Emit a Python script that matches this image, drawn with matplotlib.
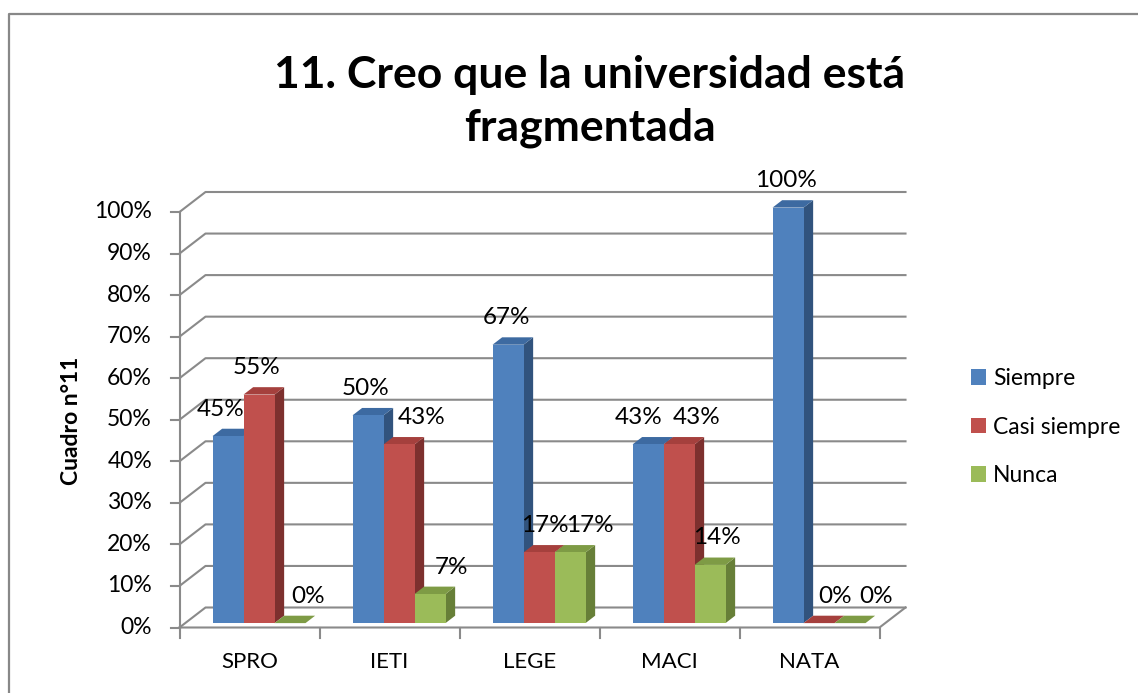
import matplotlib
matplotlib.use('Agg')
import matplotlib.pyplot as plt
from matplotlib.patches import Polygon, Patch
from matplotlib.lines import Line2D

# 1. Data -----
categories = ['SPRO', 'IETI', 'LEGE', 'MACI', 'NATA']
series_names = ['Siempre', 'Casi siempre', 'Nunca']
siempre = [0.45, 0.50, 0.67, 0.43, 1.00]
casi_siempre = [0.55, 0.43, 0.17, 0.43, 0.00]
nunca = [0.00, 0.07, 0.17, 0.14, 0.00]
y_ticks = [0.0, 0.1, 0.2, 0.3, 0.4, 0.5, 0.6, 0.7, 0.8, 0.9, 1.0]
y_tick_labels = ['0%', '10%', '20%', '30%', '40%', '50%', '60%', '70%', '80%', '90%', '100%']

title_line1 = '11. Creo que la universidad está'
title_line2 = 'fragmentada'
y_label = 'Cuadro n°11'

# face colors: front, top, side
front_colors = ['#4F81BD', '#C0504D', '#9BBB59']
top_colors = ['#3D6AA1', '#A5403D', '#7E9B45']
side_colors = ['#31537D', '#7D302E', '#677F38']
grid_color = '#8A8A8A'
font = 'Lato'

# horizontal nudge (px) of each data label, as Excel placed them
label_nudge = [[-7, -2, -2, -9, -2],
               [-2, 23, 6, 18, 16],
               [18, 21, 20, 7, 26]]

# 2. Figure / axes in "category x value" units -----
W, H = 1138, 693
fig = plt.figure(figsize=(W / 100, H / 100), dpi=100)
ax = fig.add_axes([0, 0, 1, 1])
ax.axis('off')

# pixel geometry of the plot floor (front-left corner) and scales
x0_px, y0_px = 179.5, 627.5
cat_px, full_px = 140.0, 415.5
PX, PY = 1 / cat_px, 1 / full_px
ax.set_xlim(-x0_px * PX, (W - x0_px) * PX)
ax.set_ylim((y0_px - H) * PY, y0_px * PY)

# depth of the 3d box
DX, DY = 26 * PX, 20 * PY
n = len(categories)

# 3. Walls and grid -----
lw = 1.5
for v in y_ticks:
    ax.plot([0, DX, n + DX], [v, v + DY, v + DY], color=grid_color, lw=lw, zorder=1, clip_on=False)
    ax.plot([-8.5 * PX, 0], [v, v], color=grid_color, lw=lw, zorder=1, clip_on=False)
# floor
ax.plot([0, n, n + DX], [0, 0, DY], color=grid_color, lw=lw, zorder=1, clip_on=False)
# front value axis
ax.plot([0, 0], [0, 1], color=grid_color, lw=lw, zorder=1, clip_on=False)
for i in range(n + 1):
    ax.plot([i, i], [0, -10 * PY], color=grid_color, lw=lw, zorder=1, clip_on=False)

for v, lab in zip(y_ticks, y_tick_labels):
    ax.text(-27.5 * PX, v, lab, ha='right', va='center', fontsize=16.5, family=font)
for i, cat in enumerate(categories):
    ax.text(i + 0.5, -35 * PY, cat, ha='center', va='center', fontsize=16, family=font)

# 4. 3d bars -----
bar_w = 31 * PX
gap = 27.3 * PX
f0, f1 = 0.22, 0.59
ddx, ddy = (f1 - f0) * DX, (f1 - f0) * DY

series = [siempre, casi_siempre, nunca]
for i in range(n):
    for j, vals in enumerate(series):
        h = vals[i]
        x0 = i + gap + j * bar_w + f0 * DX
        y0 = f0 * DY
        front = [(x0, y0), (x0 + bar_w, y0), (x0 + bar_w, y0 + h), (x0, y0 + h)]
        side = [(x0 + bar_w, y0), (x0 + bar_w + ddx, y0 + ddy),
                (x0 + bar_w + ddx, y0 + h + ddy), (x0 + bar_w, y0 + h)]
        top = [(x0, y0 + h), (x0 + bar_w, y0 + h),
               (x0 + bar_w + ddx, y0 + h + ddy), (x0 + ddx, y0 + h + ddy)]
        ax.add_patch(Polygon(side, closed=True, fc=side_colors[j], ec='none', zorder=3))
        ax.add_patch(Polygon(top, closed=True, fc=top_colors[j], ec='none', zorder=3))
        if h > 0:
            ax.add_patch(Polygon(front, closed=True, fc=front_colors[j], ec='none', zorder=3))
        ax.text(x0 + bar_w / 2 + label_nudge[j][i] * PX, y0 + h + 27 * PY, f'{h:.0%}',
                ha='center', va='center', fontsize=17.5, family=font, zorder=5)

# 5. Titles, legend, border -----
fig.text(590 / W, 1 - 88 / H, title_line1, ha='center', va='baseline',
         fontsize=32, fontweight='bold', family=font)
fig.text(590 / W, 1 - 140 / H, title_line2, ha='center', va='baseline',
         fontsize=32, fontweight='bold', family=font)
fig.text(71 / W, 1 - 421 / H, y_label, rotation=90, ha='center', va='center',
         fontsize=16.5, fontweight='bold', family=font)

handles = [Patch(facecolor=c, edgecolor='none') for c in front_colors]
fig.legend(handles, series_names, loc='center left', bbox_to_anchor=(962 / W, 1 - 427 / H),
           frameon=False, prop={'family': font, 'size': 16.5}, handlelength=0.66,
           handleheight=0.66, labelspacing=1.2, handletextpad=0.3, borderaxespad=0)

fig.add_artist(Line2D([8.5 / W, 8.5 / W, 1.0], [0.0, 1 - 13.5 / H, 1 - 13.5 / H],
                      transform=fig.transFigure, color='#888888', lw=1.6))

fig.savefig('out.png', dpi=100, facecolor='white')
